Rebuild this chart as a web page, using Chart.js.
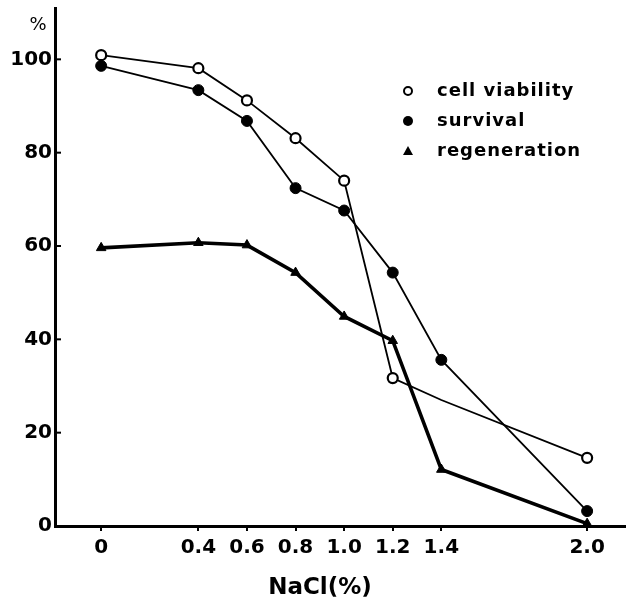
<!DOCTYPE html>
<html><head><meta charset="utf-8">
<script src="https://cdn.jsdelivr.net/npm/chart.js@4"></script>
<style>html,body{margin:0;padding:0;background:#fff}#wrap{width:626px;height:600px}</style>
</head><body><div id="wrap"><canvas id="c" width="626" height="600"></canvas></div>
<script>
const nacl = [0, 0.4, 0.6, 0.8, 1.0, 1.2, 1.4, 2.0];
const cellViability = [100.9, 98.1, 91.2, 83.1, 74.0, 31.7, 27.0, 14.6];
const cellViabilityMarked = [true, true, true, true, true, true, false, true];
const survival = [98.6, 93.4, 86.8, 72.4, 67.6, 54.3, 35.6, 3.2];
const regeneration = [59.6, 60.7, 60.2, 54.3, 44.9, 39.7, 12.1, 0.5];
const xTicks = [0, 0.4, 0.6, 0.8, 1.0, 1.2, 1.4, 2.0];
const xTickLabels = ['0', '0.4', '0.6', '0.8', '1.0', '1.2', '1.4', '2.0'];
const yTicks = [0, 20, 40, 60, 80, 100];
const seriesNames = ['cell viability', 'survival', 'regeneration'];
const xTitle = 'NaCl(%)';
const yUnit = '%';

const pts = (ys) => nacl.map((x, i) => ({x: x, y: ys[i]}));
const FONT = "'DejaVu Sans'";
const noPad = (s) => { s.paddingTop = 0; s.paddingBottom = 0; s.paddingLeft = 0; s.paddingRight = 0; };

const extras = {
  id: 'extras',
  afterDraw(chart) {
    const ctx = chart.ctx;
    const ys = chart.scales.y, xs = chart.scales.x;
    ctx.save();
    // inner y tick marks
    ctx.strokeStyle = '#000';
    ctx.lineWidth = 2;
    yTicks.forEach(v => {
      if (v === 0) return;
      const py = ys.getPixelForValue(v);
      ctx.beginPath();
      ctx.moveTo(xs.left, py);
      ctx.lineTo(xs.left + 6, py);
      ctx.stroke();
    });
    // unit label
    ctx.fillStyle = '#000';
    ctx.font = "18px " + FONT;
    ctx.textAlign = 'center';
    ctx.textBaseline = 'middle';
    ctx.fillText(yUnit, 38, 25);
    // x title
    ctx.font = "bold 23px " + FONT;
    ctx.fillText(xTitle, 320, 588);
    // legend
    const lx = 408, tx = 437;
    const rows = [96, 126, 156];
    ctx.textAlign = 'left';
    ctx.textBaseline = 'alphabetic';
    ctx.font = "bold 18px " + FONT;
    try { ctx.letterSpacing = '1px'; } catch (e) {}
    seriesNames.forEach((n, i) => ctx.fillText(n, tx, rows[i]));
    try { ctx.letterSpacing = '0px'; } catch (e) {}
    // symbols
    ctx.lineWidth = 2;
    ctx.beginPath(); ctx.arc(lx, 91, 4, 0, Math.PI * 2); ctx.fillStyle = '#fff'; ctx.fill(); ctx.stroke();
    ctx.fillStyle = '#000';
    ctx.beginPath(); ctx.arc(lx, 121, 5, 0, Math.PI * 2); ctx.fill();
    ctx.beginPath(); ctx.moveTo(lx, 146); ctx.lineTo(lx + 5, 155); ctx.lineTo(lx - 5, 155); ctx.closePath(); ctx.fill();
    ctx.restore();
  }
};

new Chart(document.getElementById('c'), {
  type: 'line',
  data: {
    datasets: [
      {
        label: seriesNames[0], data: pts(cellViability),
        borderColor: '#000', borderWidth: 1.8, tension: 0,
        pointStyle: 'circle', pointRadius: cellViabilityMarked.map(m => m ? 5 : 0),
        pointBackgroundColor: '#fff', pointBorderColor: '#000', pointBorderWidth: 2.2,
        clip: false
      },
      {
        label: seriesNames[1], data: pts(survival),
        borderColor: '#000', borderWidth: 1.8, tension: 0,
        pointStyle: 'circle', pointRadius: 5.5,
        pointBackgroundColor: '#000', pointBorderColor: '#000', pointBorderWidth: 1,
        clip: false
      },
      {
        label: seriesNames[2], data: pts(regeneration),
        borderColor: '#000', borderWidth: 3.6, tension: 0,
        pointStyle: 'triangle', pointRadius: 5.5,
        pointBackgroundColor: '#000', pointBorderColor: '#000', pointBorderWidth: 1,
        clip: false
      }
    ]
  },
  options: {
    responsive: false,
    animation: false,
    devicePixelRatio: 1,
    layout: {autoPadding: false, padding: {top: 8, left: 0, right: 0, bottom: 0}},
    plugins: {legend: {display: false}, tooltip: {enabled: false}, title: {display: false}},
    scales: {
      x: {
        type: 'linear', min: -0.19, max: 2.16,
        afterBuildTicks: (s) => { s.ticks = xTicks.map(v => ({value: v})); },
        afterFit: (s) => { s.height = 74; noPad(s); },
        ticks: {
          callback: (v, i) => xTickLabels[i],
          color: '#000', font: {family: 'DejaVu Sans', weight: 'bold', size: 20},
          padding: 5, maxRotation: 0, autoSkip: false
        },
        grid: {drawOnChartArea: false, drawTicks: true, tickLength: 5, lineWidth: 2, color: '#000'},
        border: {display: true, width: 3, color: '#000'}
      },
      y: {
        type: 'linear', min: 0, max: 111,
        afterBuildTicks: (s) => { s.ticks = yTicks.map(v => ({value: v})); },
        afterFit: (s) => { s.width = 55; noPad(s); },
        ticks: {
          color: '#000', font: {family: 'DejaVu Sans', weight: 'bold', size: 20},
          padding: 3
        },
        grid: {display: false, drawTicks: false},
        border: {display: true, width: 3, color: '#000'}
      }
    }
  },
  plugins: [extras]
});
</script>
</body></html>
